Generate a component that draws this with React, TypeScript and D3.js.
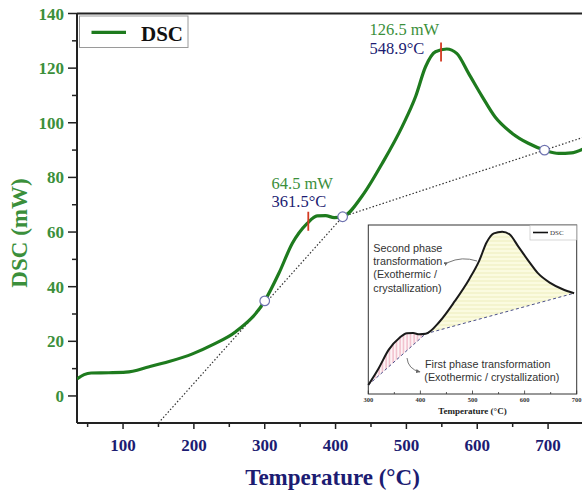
import React from 'react';
import * as d3 from 'd3';

// DSC curve
const temps = [35, 45, 55, 80, 104, 137, 165, 198, 226, 259, 300, 320, 339, 360, 374, 386, 398, 410, 437, 466, 494, 513, 527, 541, 557, 571, 588, 607, 625, 649, 672, 695, 715, 733, 750];
const dsc = [6.2, 7.8, 8.4, 8.5, 8.7, 10.7, 12.6, 15.4, 18.7, 23.5, 34.8, 44.9, 55.9, 63.2, 65.9, 66.0, 65.3, 65.6, 73, 85.2, 98.6, 109.6, 120.5, 126, 127, 125.4, 118, 109.6, 102.2, 96.2, 92.5, 90, 88.8, 89, 90.5];

// tangent (onset) lines
const onsetT = [150, 410];
const onsetV = [-9.9, 65.6];
const baseT = [410, 695, 750];
const baseV = [65.6, 90, 94.7];

// open circle markers
const markT = [300, 410, 695];
const markV = [34.8, 65.6, 90];

// peaks
const peakT = [361.5, 548.9];
const peakV = [64.5, 126.5];

const xTicks = [100, 200, 300, 400, 500, 600, 700];
const yTicks = [0, 20, 40, 60, 80, 100, 120, 140];
const insetTicks = [300, 400, 500, 600, 700];

const GREEN = '#1e7b1e';
const LABEL_GREEN = '#3b8f3b';
const NAVY = '#1c1c72';
const SERIF = '"Liberation Serif", "Times New Roman", serif';
const SANS = '"Liberation Sans", Arial, sans-serif';

const W = 582, H = 493;
const m = { left: 77, top: 13.5, bottom: 423, right: 583.5 };

const App = () => {
  const x = d3.scaleLinear().domain([35, 750]).range([m.left, m.right]);
  const y = d3.scaleLinear().domain([-9.9, 140]).range([m.bottom, m.top]);

  const pts: [number, number][] = temps.map((t, i) => [t, dsc[i]]);
  const line = d3.line<[number, number]>().x(d => x(d[0])).y(d => y(d[1])).curve(d3.curveMonotoneX);
  const straight = d3.line<[number, number]>().x(d => x(d[0])).y(d => y(d[1]));

  // inset scales
  const ix = d3.scaleLinear().domain([300, 700]).range([368.3, 576.7]);
  const iy = d3.scaleLinear().domain([29.4, 131]).range([394, 225]);
  const iline = d3.line<[number, number]>().x(d => ix(d[0])).y(d => iy(d[1])).curve(d3.curveMonotoneX);
  const insetPts = pts.filter(p => p[0] >= 300 && p[0] <= 700);
  const seg1 = pts.filter(p => p[0] >= markT[0] && p[0] <= markT[1]);
  const seg2 = pts.filter(p => p[0] >= markT[1] && p[0] <= markT[2]);
  const baseline: [number, number][] = markT.map((t, i) => [t, markV[i]]);
  const ibase = d3.line<[number, number]>().x(d => ix(d[0])).y(d => iy(d[1]));

  const minorX = d3.range(50, 750, 50).filter(v => v % 100 !== 0);
  const minorY = d3.range(-10, 140, 10).filter(v => v % 20 !== 0 && v > -9.9);

  return (
    <svg width={W} height={H} style={{ position: 'absolute', left: 0, top: 0, background: '#fff' }}>
      <defs>
        <clipPath id="plot">
          <rect x={m.left} y={m.top} width={m.right - m.left} height={m.bottom - m.top} />
        </clipPath>
        <pattern id="pinkHatch" width="3.5" height="4" patternUnits="userSpaceOnUse">
          <rect width="3.5" height="4" fill="#fdf3f5" />
          <line x1="1" y1="0" x2="1" y2="4" stroke="#e58aa4" strokeWidth="0.8" />
        </pattern>
        <pattern id="yellowHatch" width="4" height="4" patternUnits="userSpaceOnUse">
          <rect width="4" height="4" fill="#fbfbe0" />
          <line x1="0" y1="1" x2="4" y2="1" stroke="#e9e9b4" strokeWidth="0.8" />
        </pattern>
        <marker id="arr" viewBox="0 0 10 10" refX="8" refY="5" markerWidth="5" markerHeight="5" orient="auto">
          <path d="M0,1 L9,5 L0,9 Z" fill="#666" />
        </marker>
      </defs>

      {/* frame */}
      <line x1={m.left} x2={m.left} y1={m.top} y2={m.bottom} stroke="#222" strokeWidth={2} />
      <line x1={m.left} x2={W} y1={m.bottom} y2={m.bottom} stroke="#222" strokeWidth={2} />
      <line x1={m.left} x2={W} y1={m.top} y2={m.top} stroke="#222" strokeWidth={2} />

      {/* y axis */}
      {yTicks.map(v => (
        <g key={v}>
          <line x1={m.left - 9} x2={m.left} y1={y(v)} y2={y(v)} stroke="#222" strokeWidth={1.5} />
          <text x={m.left - 13} y={y(v) + 6} textAnchor="end" fontFamily={SERIF} fontWeight="bold" fontSize={17} fill={LABEL_GREEN}>{v}</text>
        </g>
      ))}
      {minorY.map(v => (
        <line key={v} x1={m.left - 5} x2={m.left} y1={y(v)} y2={y(v)} stroke="#222" strokeWidth={1.5} />
      ))}
      <text transform={`translate(27, ${233}) rotate(-90)`} textAnchor="middle" fontFamily={SERIF} fontWeight="bold" fontSize={23} fill={LABEL_GREEN}>DSC (mW)</text>

      {/* x axis */}
      {xTicks.map(v => (
        <g key={v}>
          <line x1={x(v)} x2={x(v)} y1={m.bottom} y2={m.bottom + 6} stroke="#222" strokeWidth={1.5} />
          <text x={x(v)} y={450.5} textAnchor="middle" fontFamily={SERIF} fontWeight="bold" fontSize={17} fill={NAVY}>{v}</text>
        </g>
      ))}
      {minorX.map(v => (
        <line key={v} x1={x(v)} x2={x(v)} y1={m.bottom} y2={m.bottom + 4} stroke="#222" strokeWidth={1.5} />
      ))}
      <text x={332.5} y={485} textAnchor="middle" fontFamily={SERIF} fontWeight="bold" fontSize={23} fill={NAVY}>Temperature (°C)</text>

      <g clipPath="url(#plot)">
        <path d={straight(onsetT.map((t, i) => [t, onsetV[i]])) || ''} fill="none" stroke="#333" strokeWidth={1.2} strokeDasharray="1.5 2" />
        <path d={straight(baseT.map((t, i) => [t, baseV[i]])) || ''} fill="none" stroke="#333" strokeWidth={1.2} strokeDasharray="1.5 2" />
        <path d={line(pts) || ''} fill="none" stroke={GREEN} strokeWidth={3.2} />
        {markT.map((t, i) => (
          <circle key={t} cx={x(t)} cy={y(markV[i])} r={4.8} fill="#fff" stroke="#6f73b0" strokeWidth={1.2} />
        ))}
        {peakT.map((t, i) => (
          <line key={t} x1={x(t)} x2={x(t)} y1={y(peakV[i]) - 8} y2={y(peakV[i]) + 11} stroke="#d33a22" strokeWidth={1.8} />
        ))}
      </g>

      {/* peak annotations */}
      <text x={271.5} y={188.5} fontFamily={SERIF} fontSize={16.5} fill={LABEL_GREEN}>{peakV[0]} mW</text>
      <text x={271.5} y={207} fontFamily={SERIF} fontSize={16.5} fill={NAVY}>{peakT[0]}°C</text>
      <text x={369.5} y={34.5} fontFamily={SERIF} fontSize={16.5} fill={LABEL_GREEN}>{peakV[1]} mW</text>
      <text x={369.5} y={53.5} fontFamily={SERIF} fontSize={16.5} fill={NAVY}>{peakT[1]}°C</text>

      {/* legend */}
      <rect x={79.5} y={16} width={108.5} height={31.5} fill="#fff" stroke="#9a9a9a" strokeWidth={1} />
      <line x1={91.5} x2={126} y1={32.3} y2={32.3} stroke={GREEN} strokeWidth={3.2} />
      <text x={141} y={40.5} fontFamily={SERIF} fontWeight="bold" fontSize={21} fill="#111">DSC</text>

      {/* inset */}
      <g>
        <rect x={368.3} y={225} width={208.4} height={169} fill="#fff" stroke="#333" strokeWidth={1} />
        <path d={(iline(seg1) || '') + 'Z'} fill="url(#pinkHatch)" />
        <path d={(iline(seg2) || '') + 'Z'} fill="url(#yellowHatch)" />
        <path d={ibase(baseline) || ''} fill="none" stroke="#4a4f8a" strokeWidth={1} strokeDasharray="3 2.5" />
        <path d={iline(insetPts) || ''} fill="none" stroke="#1a1a1a" strokeWidth={2} />
        {d3.range(300, 701, 50).map(v => (
          <line key={v} x1={ix(v)} x2={ix(v)} y1={394} y2={v % 100 === 0 ? 390.5 : 392} stroke="#333" strokeWidth={0.8} />
        ))}
        {insetTicks.map(v => (
          <text key={v} x={ix(v)} y={401.5} textAnchor="middle" fontFamily={SERIF} fontWeight="bold" fontSize={6.5} fill="#333">{v}</text>
        ))}
        <text x={ix(500)} y={414} textAnchor="middle" fontFamily={SERIF} fontWeight="bold" fontSize={9} fill="#222">Temperature (°C)</text>
        <rect x={530} y={225.5} width={46.5} height={14.5} fill="#fff" stroke="#bbb" strokeWidth={0.6} />
        <line x1={533} x2={548} y1={232.5} y2={232.5} stroke="#111" strokeWidth={1.6} />
        <text x={550} y={235} fontFamily={SERIF} fontSize={7} fill="#333">DSC</text>

        <g fontFamily={SANS} fontSize={10.8} fill="#333">
          <text x={373.3} y={251.7}>Second phase</text>
          <text x={373.3} y={265}>transformation</text>
          <text x={373.3} y={278.3}>(Exothermic /</text>
          <text x={373.3} y={291.7}>crystallization)</text>
          <text x={425} y={368.3}>First phase transformation</text>
          <text x={424.3} y={380.7}>(Exothermic / crystallization)</text>
        </g>
        <path d="M 448 262.5 Q 462 256 477 261" fill="none" stroke="#777" strokeWidth={1} markerStart="url(#arr)" />
        <path d="M 407 358 Q 408 369 420 372" fill="none" stroke="#777" strokeWidth={1} markerEnd="url(#arr)" />
      </g>
    </svg>
  );
};

export default App;
